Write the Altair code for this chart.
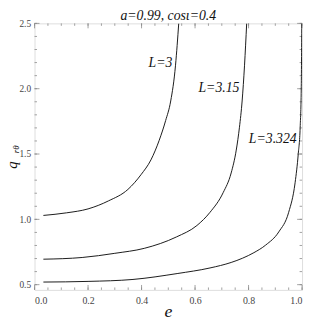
import altair as alt
import pandas as pd

# ---- data ----
e_L3 = [0.033, 0.12, 0.20, 0.276, 0.349, 0.398, 0.435, 0.466, 0.49, 0.509, 0.527, 0.533, 0.539]
q_L3 = [1.03, 1.05, 1.08, 1.141, 1.229, 1.342, 1.455, 1.605, 1.756, 1.906, 2.18, 2.33, 2.5]

e_L315 = [0.033, 0.178, 0.30, 0.41, 0.53, 0.607, 0.656, 0.705, 0.735, 0.754, 0.766, 0.776, 0.785, 0.793]
q_L315 = [0.695, 0.708, 0.74, 0.778, 0.865, 0.953, 1.054, 1.204, 1.355, 1.53, 1.705, 1.906, 2.18, 2.5]

e_L3324 = [0.033, 0.2, 0.368, 0.533, 0.656, 0.735, 0.778, 0.82, 0.864, 0.913, 0.95, 0.974, 0.986, 0.993, 0.997, 0.999]
q_L3324 = [0.52, 0.525, 0.54, 0.585, 0.628, 0.67, 0.703, 0.745, 0.803, 0.904, 1.054, 1.28, 1.505, 1.705, 2.0, 2.5]

label_text = ["L=3", "L=3.15", "L=3.324"]
label_e = [0.515, 0.766, 0.980]
label_q = [2.20, 2.006, 1.618]

x_major = [0.0, 0.2, 0.4, 0.6, 0.8, 1.0]
x_minor = [i / 20 for i in range(21)]
y_major = [0.5, 1.0, 1.5, 2.0, 2.5]
y_minor = [0.5 + i / 10 for i in range(21)]

X_DOMAIN = [0.0, 1.0]
Y_DOMAIN = [0.46, 2.5]

W = 272
H = 271
SERIF = "Liberation Serif, Times New Roman, DejaVu Serif, serif"
FRAME = "#8a8a8a"

rows = []
for name, es, qs in [("L=3", e_L3, q_L3), ("L=3.15", e_L315, q_L315), ("L=3.324", e_L3324, q_L3324)]:
    for i, (e, q) in enumerate(zip(es, qs)):
        rows.append({"series": name, "e": e, "q": q, "order": i})
curves = pd.DataFrame(rows)

xs = alt.Scale(domain=X_DOMAIN, nice=False, zero=False)
ys = alt.Scale(domain=Y_DOMAIN, nice=False, zero=False)

x_axis = alt.Axis(values=x_major, format=".1f", ticks=False, domain=False, grid=False,
                  labelFont=SERIF, labelFontSize=10, labelColor="#444", labelPadding=6,
                  title=None)
y_axis = alt.Axis(values=y_major, format=".1f", ticks=False, domain=False, grid=False,
                  labelFont=SERIF, labelFontSize=9.5, labelColor="#444", labelPadding=4,
                  title=None)

lines = alt.Chart(curves).mark_line(color="#1a1a1a", strokeWidth=1, interpolate="monotone", clip=True).encode(
    x=alt.X("e:Q", scale=xs, axis=x_axis),
    y=alt.Y("q:Q", scale=ys, axis=y_axis),
    detail="series:N",
    order="order:Q",
)

labels = alt.Chart(pd.DataFrame({"t": label_text, "e": label_e, "q": label_q})).mark_text(
    align="right", baseline="middle", font=SERIF, fontStyle="italic", fontSize=14, color="#111"
).encode(x=alt.X("e:Q", scale=xs), y=alt.Y("q:Q", scale=ys), text="t:N")

xmaj = pd.DataFrame({"v": x_major})
xmin = pd.DataFrame({"v": x_minor})
ymaj = pd.DataFrame({"v": y_major})
ymin = pd.DataFrame({"v": y_minor})

tick_style = dict(color=FRAME, strokeWidth=0.8)

def xticks(df, length):
    b = alt.Chart(df).mark_rule(**tick_style).encode(x=alt.X("v:Q", scale=xs), y=alt.value(H), y2=alt.value(H - length))
    t = alt.Chart(df).mark_rule(**tick_style).encode(x=alt.X("v:Q", scale=xs), y=alt.value(0), y2=alt.value(length))
    return b + t

def yticks(df, length):
    l = alt.Chart(df).mark_rule(**tick_style).encode(y=alt.Y("v:Q", scale=ys), x=alt.value(0), x2=alt.value(length))
    r = alt.Chart(df).mark_rule(**tick_style).encode(y=alt.Y("v:Q", scale=ys), x=alt.value(W), x2=alt.value(W - length))
    return l + r

title_df = pd.DataFrame({"t": ["a=0.99, cos\u03b9=0.4"]})
title = alt.Chart(title_df).mark_text(font=SERIF, fontStyle="italic", fontSize=14, color="#111",
                                      align="center", baseline="alphabetic").encode(
    text="t:N", x=alt.value(W / 2), y=alt.value(-3))

xt = alt.Chart(pd.DataFrame({"t": ["e"]})).mark_text(font=SERIF, fontStyle="italic", fontSize=18, color="#111",
                                                     align="center", baseline="alphabetic").encode(
    text="t:N", x=alt.value(W / 2), y=alt.value(H + 28))

yq = alt.Chart(pd.DataFrame({"t": ["q"]})).mark_text(font=SERIF, fontStyle="italic", fontSize=15, color="#111",
                                                     align="center", baseline="alphabetic", angle=270).encode(
    text="t:N", x=alt.value(-18), y=alt.value(144))
ysub = alt.Chart(pd.DataFrame({"t": ["r\u03b8"]})).mark_text(font=SERIF, fontStyle="italic", fontSize=9, color="#111",
                                                        align="center", baseline="alphabetic", angle=270).encode(
    text="t:N", x=alt.value(-16), y=alt.value(128))

chart = alt.layer(
    xticks(xmin, 2.5), xticks(xmaj, 5), yticks(ymin, 2.5), yticks(ymaj, 5),
    lines, labels, title, xt, yq, ysub,
).properties(
    width=W, height=H,
    autosize=alt.AutoSizeParams(type="none"),
    padding={"left": 27, "top": 13, "right": 3, "bottom": 30},
).configure_view(stroke=FRAME, strokeWidth=1).configure(background="white")

chart.save("out.html", embed_options={"renderer": "svg", "actions": False})
